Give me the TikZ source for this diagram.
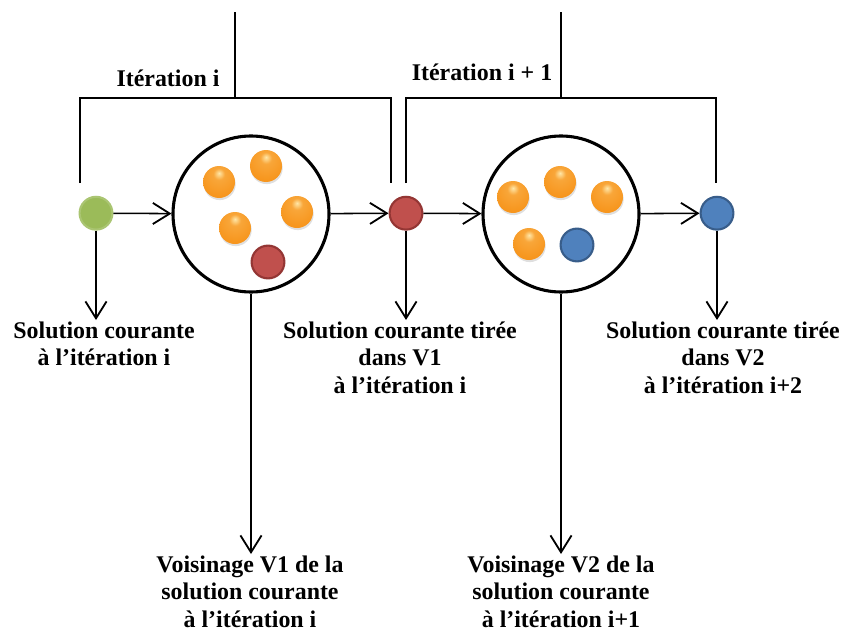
\documentclass[tikz,border=0pt]{standalone}
\usepackage{fontspec}
\setmainfont{Liberation Serif}
\usetikzlibrary{arrows.meta,positioning,calc,shadows}

\definecolor{solgreen}{HTML}{9BBB59}
\definecolor{solred}{HTML}{C0504D}
\definecolor{solredd}{HTML}{943634}
\definecolor{solblue}{HTML}{4F81BD}
\definecolor{solblued}{HTML}{385D8A}
\definecolor{ballorange}{HTML}{F7961E}
\definecolor{ballorangeh}{HTML}{FFE7A8}
\definecolor{balloranged}{HTML}{C8620A}

\pgfdeclareradialshading{orangeshade}{\pgfpoint{0bp}{14bp}}{%
    color(0bp)=(ballorangeh); color(9bp)=(ballorange!80!ballorangeh);
    color(30bp)=(ballorange); color(52bp)=(ballorange!85!balloranged);
    color(66bp)=(balloranged); color(80bp)=(balloranged)}

\begin{document}
\begin{tikzpicture}[
    trait/.style={line width=1.1pt},
    fleche/.style={trait, -{Straight Barb[length=12pt,width=15pt,line width=1.3pt]}},
    voisin/.style={draw, circle, line width=2.2pt, minimum size=3.9cm, inner sep=0pt},
    sol/.style={circle, minimum size=0.82cm, inner sep=0pt, line width=1.5pt},
    orangeball/.style={circle, shading=orangeshade, minimum size=0.8cm, inner sep=0pt,
        drop shadow={opacity=0.25, shadow xshift=0.5pt, shadow yshift=-1.5pt}},
    txt/.style={align=center, font=\bfseries\fontsize{17}{19.5}\selectfont, inner sep=1pt}]

\useasboundingbox (0,0) rectangle (21.125,-15.875);

% solutions et voisinages
\node[sol, fill=solgreen, draw=solgreen!85!white] (s0) at (2.4,-5.33) {};
\node[voisin] (v1) at (6.275,-5.35) {};
\node[sol, fill=solred, draw=solredd] (s1) at (10.15,-5.33) {};
\node[voisin] (v2) at (14.025,-5.35) {};
\node[sol, fill=solblue, draw=solblued] (s2) at (17.925,-5.33) {};

% contenu des voisinages
\foreach \p [count=\k] in {(5.475,-4.55),(6.65,-4.15),(7.425,-5.3),(5.875,-5.7)}
    \node[orangeball] (a\k) at \p {};
\node[sol, fill=solred, draw=solredd] (a5) at (6.7,-6.55) {};
\foreach \p [count=\k] in {(12.825,-4.925),(14.0,-4.55),(15.175,-4.925),(13.225,-6.1)}
    \node[orangeball] (b\k) at \p {};
\node[sol, fill=solblue, draw=solblued] (b5) at (14.425,-6.125) {};

\draw[fleche] (s0) -- (v1);
\draw[fleche] (v1) -- (s1);
\draw[fleche] (s1) -- (v2);
\draw[fleche] (v2) -- (s2);

% iterations
\node[txt] (it1) at (4.2,-1.95) {Itération i};
\node[txt] (it2) at (12.05,-1.8) {Itération i + 1};
\draw[trait] (2.0,-4.575) |- (9.775,-2.45) -- (9.775,-4.575);
\draw[trait] (5.875,-2.45) -- (5.875,-0.3);
\draw[trait] (10.15,-4.575) |- (17.9,-2.45) -- (17.9,-4.575);
\draw[trait] (14.025,-2.45) -- (14.025,-0.3);

% legendes
\node[txt, anchor=north] (l0) at (2.6,-8.0) {Solution courante\\à l’itération i};
\node[txt, anchor=north] (l1) at (10.0,-8.0) {Solution courante tirée\\dans V1\\à l’itération i};
\node[txt, anchor=north] (l2) at (18.075,-8.0) {Solution courante tirée\\dans V2\\à l’itération i+2};
\node[txt, anchor=north] (lv1) at (6.25,-13.85) {Voisinage V1 de la\\solution courante\\à l’itération i};
\node[txt, anchor=north] (lv2) at (14.025,-13.85) {Voisinage V2 de la\\solution courante\\à l’itération i+1};

\draw[fleche] (s0) -- (s0 |- l0.north);
\draw[fleche] (s1) -- (s1 |- l1.north);
\draw[fleche] (s2) -- (s2 |- l2.north);
\draw[fleche] (v1) -- (v1 |- lv1.north);
\draw[fleche] (v2) -- (v2 |- lv2.north);
\end{tikzpicture}
\end{document}
